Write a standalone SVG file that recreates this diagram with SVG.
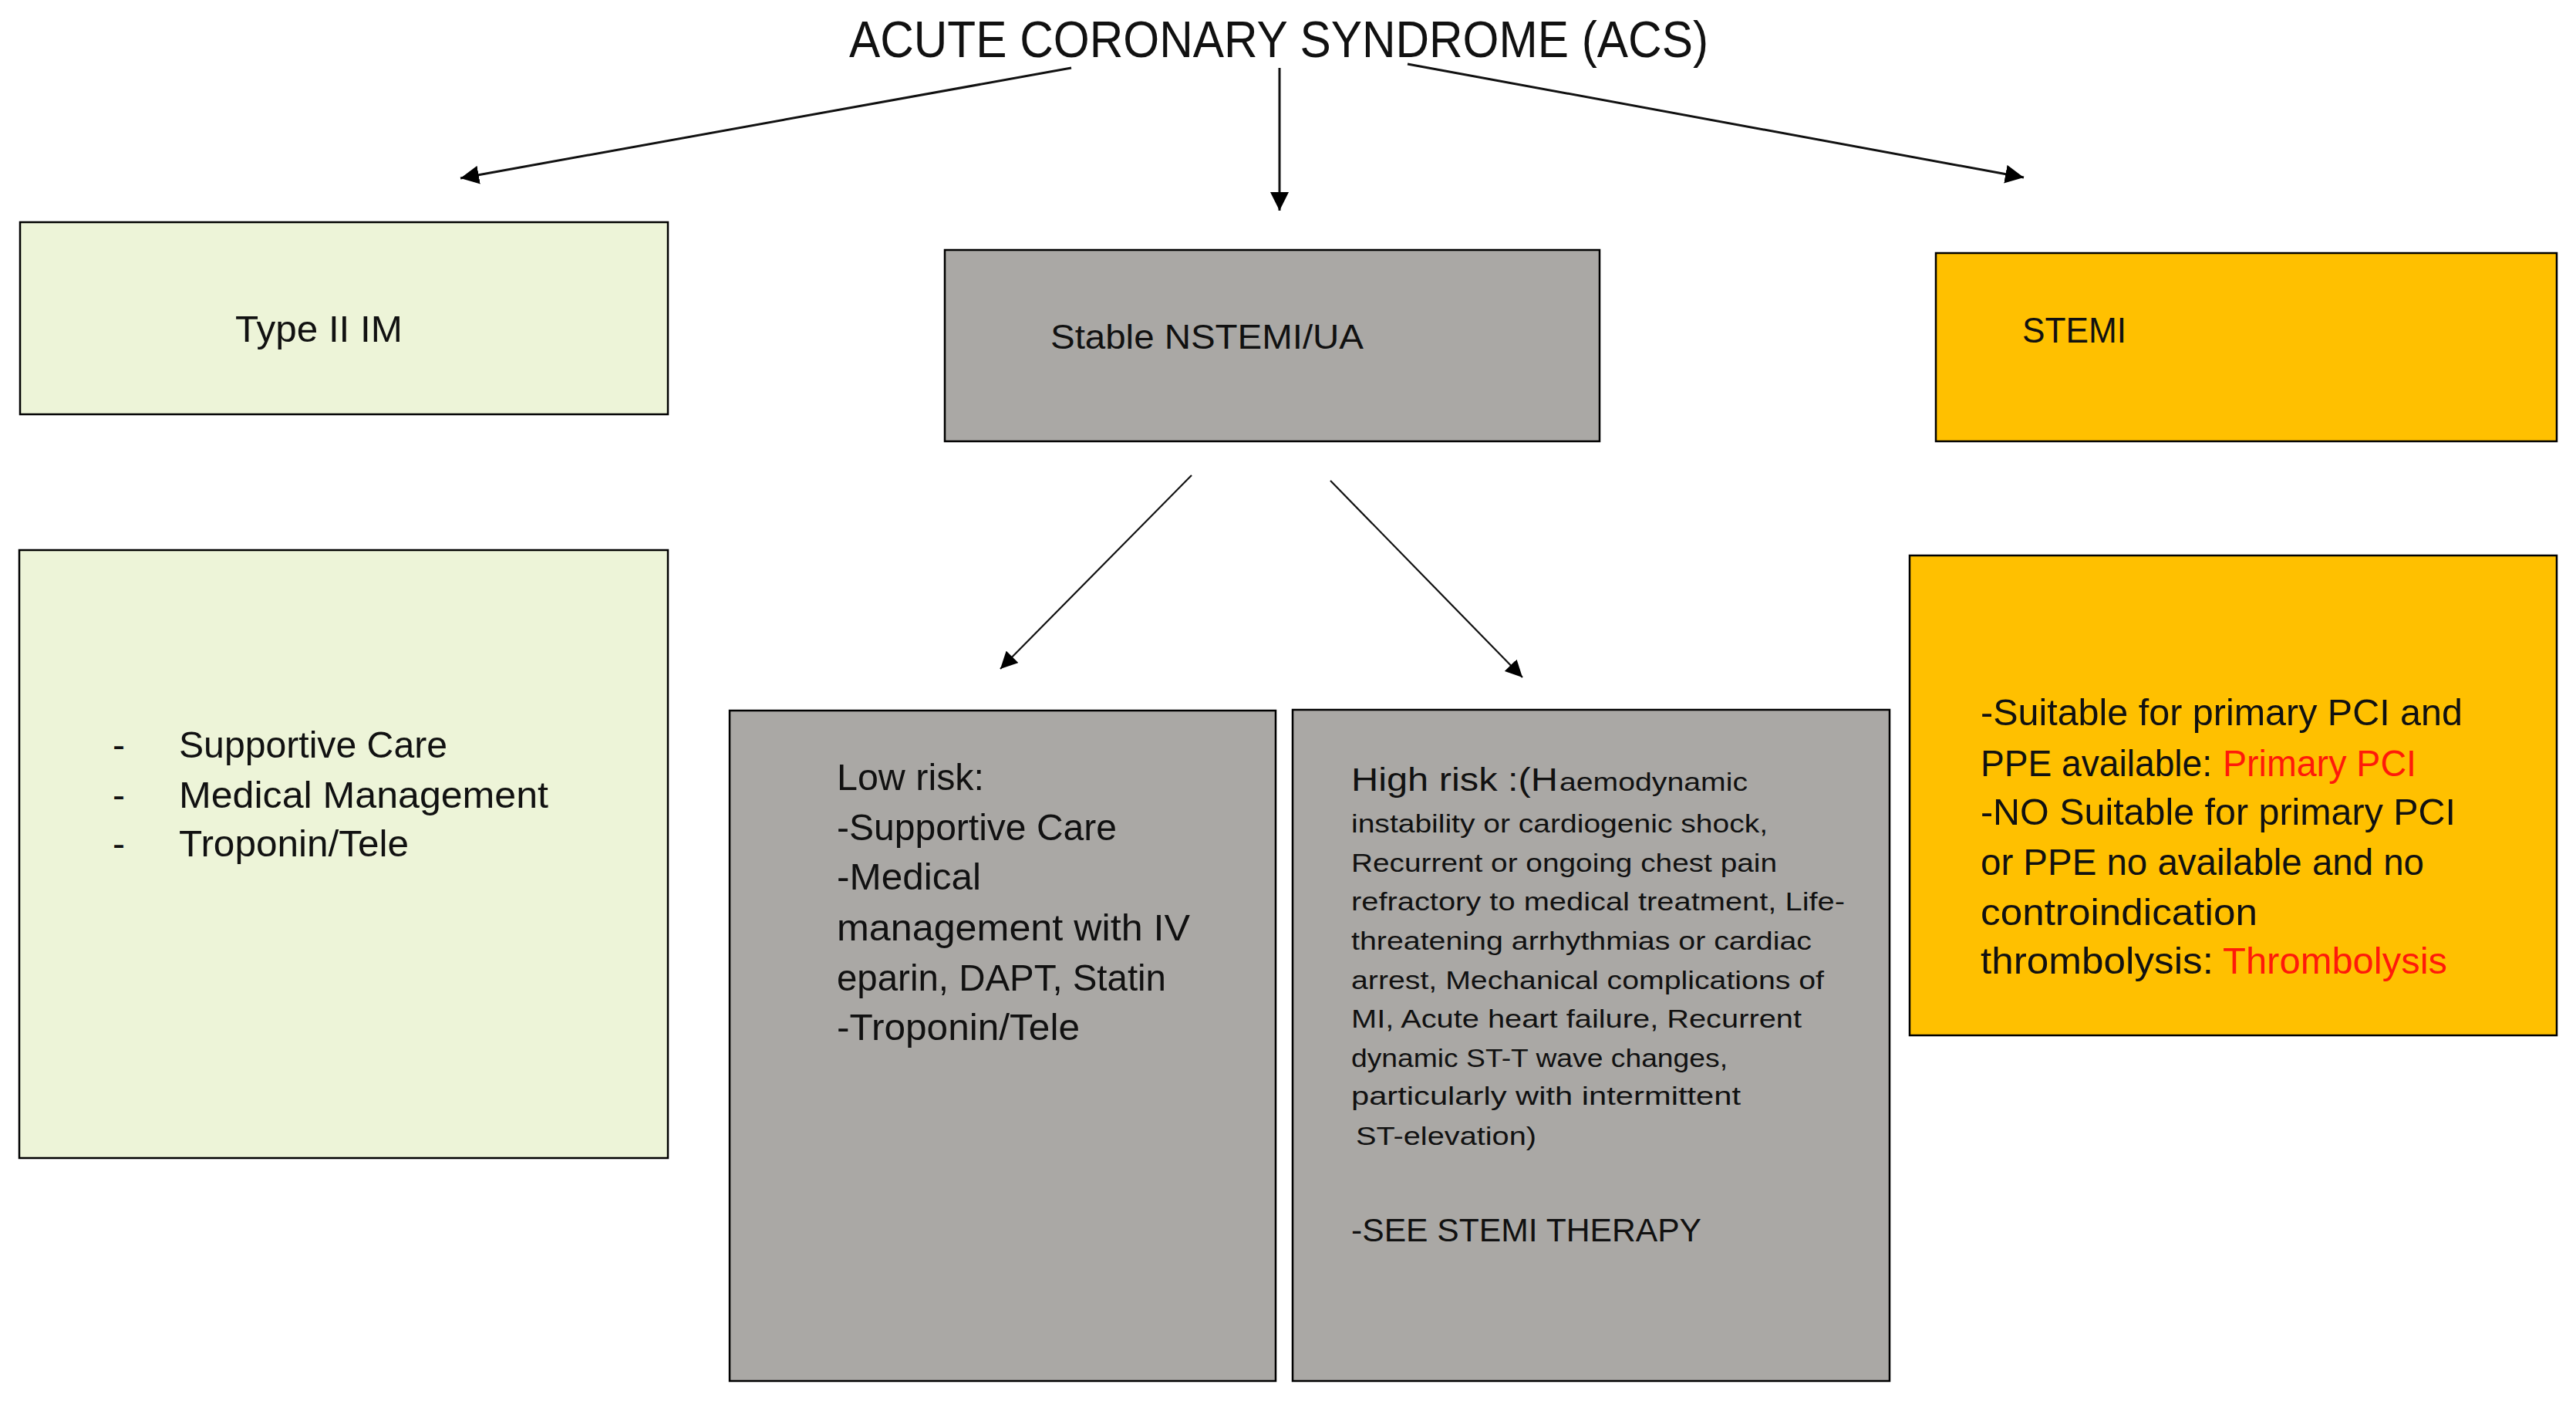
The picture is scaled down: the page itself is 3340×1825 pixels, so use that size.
<svg xmlns="http://www.w3.org/2000/svg" width="3340" height="1825" viewBox="0 0 3340 1825">
<defs>
<style>
.t{font-family:"Liberation Sans",Arial,sans-serif;fill:#111;}
.box{stroke:#000;stroke-width:2.5;}
.green{fill:#EDF4D8;}
.gray{fill:#AAA8A5;}
.amber{fill:#FFC000;}
.red{fill:#FF1A0A;}
.conn{stroke:#111;fill:none;}
</style>
<marker id="ah" markerUnits="userSpaceOnUse" markerWidth="24" markerHeight="24" viewBox="0 0 24 24" refX="24" refY="12" orient="auto">
<path d="M0,0 L24,12 L0,24 z" fill="#000"/>
</marker>
<marker id="ahs" markerUnits="userSpaceOnUse" markerWidth="22" markerHeight="22" viewBox="0 0 22 22" refX="22" refY="11" orient="auto">
<path d="M0,0 L22,11 L0,22 z" fill="#000"/>
</marker>
</defs>
<rect width="3340" height="1825" fill="#fff"/>

<g id="title">
<text class="t" x="1101" y="74" font-size="66" textLength="1114" lengthAdjust="spacingAndGlyphs">ACUTE CORONARY SYNDROME (ACS)</text>
</g>

<g id="connectors">
<line class="conn" stroke-width="3" x1="1389" y1="88" x2="597" y2="231" marker-end="url(#ah)"/>
<line class="conn" stroke-width="3" x1="1659" y1="88" x2="1659" y2="273" marker-end="url(#ah)"/>
<line class="conn" stroke-width="3" x1="1825" y1="83" x2="2624" y2="230" marker-end="url(#ah)"/>
<line class="conn" stroke-width="2.2" x1="1545" y1="616" x2="1297" y2="867" marker-end="url(#ahs)"/>
<line class="conn" stroke-width="2.2" x1="1725" y1="623" x2="1974" y2="878" marker-end="url(#ahs)"/>
</g>

<g id="type2">
<rect class="box green" x="26" y="288" width="840" height="249"/>
<text class="t" x="305" y="443" font-size="48" textLength="217" lengthAdjust="spacingAndGlyphs">Type II IM</text>
</g>

<g id="nstemi">
<rect class="box gray" x="1225" y="324" width="849" height="248"/>
<text class="t" x="1362" y="452" font-size="45" textLength="406" lengthAdjust="spacingAndGlyphs">Stable NSTEMI/UA</text>
</g>

<g id="stemi">
<rect class="box amber" x="2510" y="328" width="805" height="244"/>
<text class="t" x="2622" y="444" font-size="46" textLength="135" lengthAdjust="spacingAndGlyphs">STEMI</text>
</g>

<g id="type2-management">
<rect class="box green" x="25" y="713" width="841" height="788"/>
<text class="t" x="146" y="982" font-size="48">-</text>
<text class="t" x="232" y="982" font-size="48" textLength="348" lengthAdjust="spacingAndGlyphs">Supportive Care</text>
<text class="t" x="146" y="1047" font-size="48">-</text>
<text class="t" x="232" y="1047" font-size="48" textLength="479" lengthAdjust="spacingAndGlyphs">Medical Management</text>
<text class="t" x="146" y="1110" font-size="48">-</text>
<text class="t" x="232" y="1110" font-size="48" textLength="298" lengthAdjust="spacingAndGlyphs">Troponin/Tele</text>
</g>

<g id="low-risk">
<rect class="box gray" x="946" y="921" width="708" height="869"/>
<text class="t" x="1085" y="1024" font-size="49" textLength="191" lengthAdjust="spacingAndGlyphs">Low risk:</text>
<text class="t" x="1085" y="1089" font-size="49" textLength="363" lengthAdjust="spacingAndGlyphs">-Supportive Care</text>
<text class="t" x="1085" y="1153" font-size="49" textLength="187" lengthAdjust="spacingAndGlyphs">-Medical</text>
<text class="t" x="1085" y="1219" font-size="49" textLength="458" lengthAdjust="spacingAndGlyphs">management with IV</text>
<text class="t" x="1085" y="1284" font-size="49" textLength="427" lengthAdjust="spacingAndGlyphs">eparin, DAPT, Statin</text>
<text class="t" x="1085" y="1348" font-size="49" textLength="315" lengthAdjust="spacingAndGlyphs">-Troponin/Tele</text>
</g>

<g id="high-risk">
<rect class="box gray" x="1676" y="920" width="774" height="870"/>
<text class="t" x="1752" y="1025" font-size="42" textLength="268" lengthAdjust="spacingAndGlyphs">High risk :(H</text>
<text class="t" x="2022" y="1025" font-size="34" textLength="244" lengthAdjust="spacingAndGlyphs">aemodynamic</text>
<text class="t" x="1752" y="1079" font-size="34" textLength="540" lengthAdjust="spacingAndGlyphs">instability or cardiogenic shock,</text>
<text class="t" x="1752" y="1130" font-size="34" textLength="552" lengthAdjust="spacingAndGlyphs">Recurrent or ongoing chest pain</text>
<text class="t" x="1752" y="1180" font-size="34" textLength="640" lengthAdjust="spacingAndGlyphs">refractory to medical treatment, Life-</text>
<text class="t" x="1752" y="1231" font-size="34" textLength="597" lengthAdjust="spacingAndGlyphs">threatening arrhythmias or cardiac</text>
<text class="t" x="1752" y="1282" font-size="34" textLength="613" lengthAdjust="spacingAndGlyphs">arrest, Mechanical complications of</text>
<text class="t" x="1752" y="1332" font-size="34" textLength="584" lengthAdjust="spacingAndGlyphs">MI, Acute heart failure, Recurrent</text>
<text class="t" x="1752" y="1383" font-size="34" textLength="488" lengthAdjust="spacingAndGlyphs">dynamic ST-T wave changes,</text>
<text class="t" x="1752" y="1432" font-size="34" textLength="505" lengthAdjust="spacingAndGlyphs">particularly with intermittent</text>
<text class="t" x="1758" y="1484" font-size="34" textLength="234" lengthAdjust="spacingAndGlyphs">ST-elevation)</text>
<text class="t" x="1752" y="1609" font-size="43" textLength="454" lengthAdjust="spacingAndGlyphs">-SEE STEMI THERAPY</text>
</g>

<g id="stemi-therapy">
<rect class="box amber" x="2476" y="720" width="839" height="622"/>
<text class="t" x="2568" y="940" font-size="48" textLength="625" lengthAdjust="spacingAndGlyphs">-Suitable for primary PCI and</text>
<text class="t" x="2568" y="1006" font-size="48" textLength="300" lengthAdjust="spacingAndGlyphs">PPE available:</text>
<text class="t red" x="2882" y="1006" font-size="48" textLength="251" lengthAdjust="spacingAndGlyphs">Primary PCI</text>
<text class="t" x="2568" y="1069" font-size="48" textLength="616" lengthAdjust="spacingAndGlyphs">-NO Suitable for primary PCI</text>
<text class="t" x="2568" y="1134" font-size="48" textLength="575" lengthAdjust="spacingAndGlyphs">or PPE no available and no</text>
<text class="t" x="2568" y="1199" font-size="48" textLength="359" lengthAdjust="spacingAndGlyphs">controindication</text>
<text class="t" x="2568" y="1262" font-size="48" textLength="302" lengthAdjust="spacingAndGlyphs">thrombolysis:</text>
<text class="t red" x="2882" y="1262" font-size="48" textLength="291" lengthAdjust="spacingAndGlyphs">Thrombolysis</text>
</g>
</svg>
